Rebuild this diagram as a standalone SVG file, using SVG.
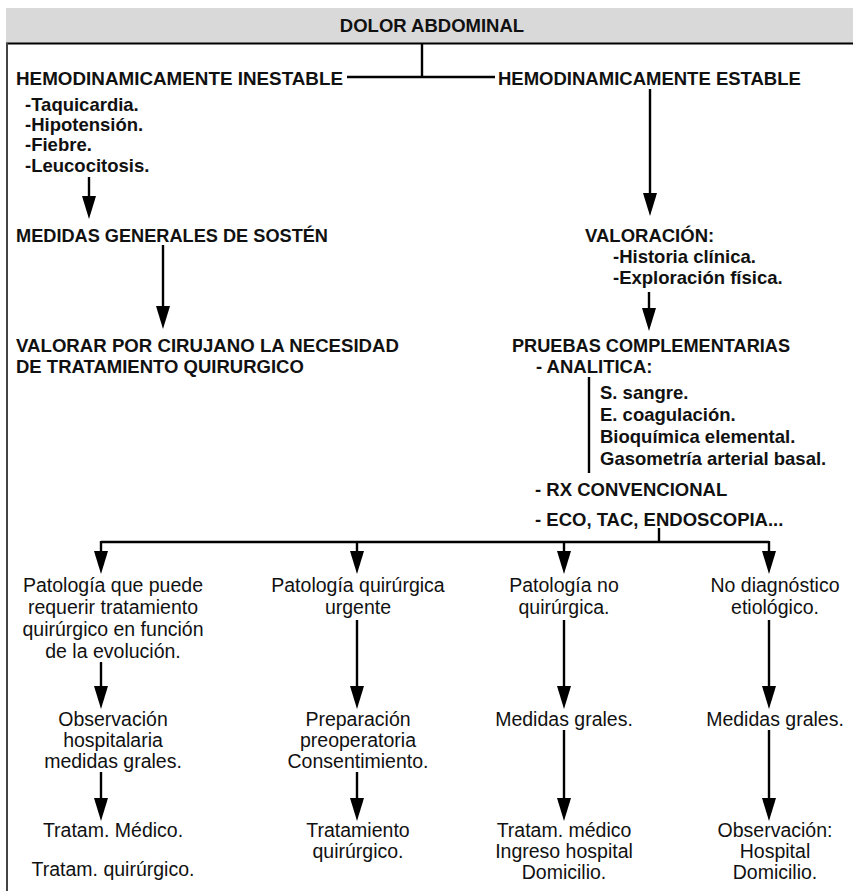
<svg xmlns="http://www.w3.org/2000/svg" width="853" height="891" viewBox="0 0 853 891">
<style>
.b{font-family:"Liberation Sans",Arial,sans-serif;font-weight:bold;font-size:18.5px;fill:#111}
.r{font-family:"Liberation Sans",Arial,sans-serif;font-size:19.5px;fill:#111;text-anchor:middle}
.ln{stroke:#000;stroke-width:2.4;fill:none}
.ar{stroke:#000;stroke-width:2.4;fill:none;marker-end:url(#ah)}
</style>
<defs>
<marker id="ah" markerUnits="userSpaceOnUse" markerWidth="24" markerHeight="16" refX="10" refY="7" orient="auto">
<path d="M0,0 L23,7 L0,14 z" fill="#000"/>
</marker>
</defs>
<rect width="853" height="891" fill="#fff"/>
<g id="header">
<rect x="6" y="8" width="847" height="35" fill="#d9d9d9"/>
<line x1="6" y1="43.5" x2="853" y2="43.5" stroke="#000" stroke-width="2"/>
<line x1="7" y1="43" x2="7" y2="891" stroke="#444" stroke-width="2"/>
<text class="b" x="432" y="32" text-anchor="middle" font-size="19.5">DOLOR ABDOMINAL</text>
</g>
<g id="connectors">
<line class="ln" x1="422" y1="44" x2="422" y2="77"/>
<line class="ln" x1="347" y1="77" x2="495" y2="77"/>
<line class="ar" x1="89" y1="177" x2="89" y2="206"/>
<line class="ar" x1="163" y1="245" x2="163" y2="316"/>
<line class="ar" x1="650" y1="89" x2="650" y2="203"/>
<line class="ar" x1="649" y1="292" x2="649" y2="318"/>
<line class="ln" x1="589" y1="377" x2="589" y2="473"/>
<line class="ln" x1="659" y1="528" x2="659" y2="542"/>
<line class="ln" x1="101" y1="542" x2="769" y2="542"/>
<line class="ar" x1="101" y1="541" x2="101" y2="561"/>
<line class="ar" x1="357" y1="541" x2="357" y2="561"/>
<line class="ar" x1="564" y1="541" x2="564" y2="561"/>
<line class="ar" x1="769" y1="541" x2="769" y2="561"/>
<line class="ar" x1="101" y1="662" x2="101" y2="696"/>
<line class="ar" x1="101" y1="772" x2="101" y2="808"/>
<line class="ar" x1="357" y1="620" x2="357" y2="696"/>
<line class="ar" x1="357" y1="772" x2="357" y2="808"/>
<line class="ar" x1="564" y1="620" x2="564" y2="696"/>
<line class="ar" x1="564" y1="730" x2="564" y2="808"/>
<line class="ar" x1="769" y1="620" x2="769" y2="696"/>
<line class="ar" x1="769" y1="730" x2="769" y2="808"/>
</g>
<g id="inestable">
<text class="b" x="16" y="85" textLength="327" lengthAdjust="spacingAndGlyphs">HEMODINAMICAMENTE INESTABLE</text>
<text class="b" x="25" y="111">-Taquicardia.</text>
<text class="b" x="25" y="131">-Hipotensión.</text>
<text class="b" x="25" y="151">-Fiebre.</text>
<text class="b" x="25" y="172">-Leucocitosis.</text>
</g>
<g id="estable">
<text class="b" x="498" y="85">HEMODINAMICAMENTE ESTABLE</text>
</g>
<g id="medidas-sosten">
<text class="b" x="16" y="242" textLength="312" lengthAdjust="spacingAndGlyphs">MEDIDAS GENERALES DE SOSTÉN</text>
</g>
<g id="valorar-cirujano">
<text class="b" x="16" y="352" textLength="383" lengthAdjust="spacingAndGlyphs">VALORAR POR CIRUJANO LA NECESIDAD</text>
<text class="b" x="16" y="373">DE TRATAMIENTO QUIRURGICO</text>
</g>
<g id="valoracion">
<text class="b" x="585" y="242">VALORACIÓN:</text>
<text class="b" x="613" y="263">-Historia clínica.</text>
<text class="b" x="613" y="284">-Exploración física.</text>
</g>
<g id="pruebas">
<text class="b" x="512" y="352" textLength="278" lengthAdjust="spacingAndGlyphs">PRUEBAS COMPLEMENTARIAS</text>
<text class="b" x="536" y="373">- ANALITICA:</text>
<text class="b" x="600" y="399">S. sangre.</text>
<text class="b" x="600" y="421">E. coagulación.</text>
<text class="b" x="600" y="443">Bioquímica elemental.</text>
<text class="b" x="600" y="465">Gasometría arterial basal.</text>
<text class="b" x="535" y="496">- RX CONVENCIONAL</text>
<text class="b" x="535" y="526">- ECO, TAC, ENDOSCOPIA...</text>
</g>
<g id="col1-a">
<text class="r" x="113" y="592">Patología que puede</text>
<text class="r" x="113" y="614">requerir tratamiento</text>
<text class="r" x="113" y="636">quirúrgico en función</text>
<text class="r" x="113" y="658">de la evolución.</text>
</g>
<g id="col1-b">
<text class="r" x="113" y="726">Observación</text>
<text class="r" x="113" y="747">hospitalaria</text>
<text class="r" x="113" y="768">medidas grales.</text>
</g>
<g id="col1-c">
<text class="r" x="113" y="837">Tratam. Médico.</text>
<text class="r" x="113" y="876">Tratam. quirúrgico.</text>
</g>
<g id="col2-a">
<text class="r" x="358" y="592">Patología quirúrgica</text>
<text class="r" x="358" y="614">urgente</text>
</g>
<g id="col2-b">
<text class="r" x="358" y="726">Preparación</text>
<text class="r" x="358" y="747">preoperatoria</text>
<text class="r" x="358" y="768">Consentimiento.</text>
</g>
<g id="col2-c">
<text class="r" x="358" y="837">Tratamiento</text>
<text class="r" x="358" y="858">quirúrgico.</text>
</g>
<g id="col3-a">
<text class="r" x="564" y="592">Patología no</text>
<text class="r" x="564" y="614">quirúrgica.</text>
</g>
<g id="col3-b">
<text class="r" x="564" y="726">Medidas grales.</text>
</g>
<g id="col3-c">
<text class="r" x="564" y="837">Tratam. médico</text>
<text class="r" x="564" y="858">Ingreso hospital</text>
<text class="r" x="564" y="879">Domicilio.</text>
</g>
<g id="col4-a">
<text class="r" x="775" y="592">No diagnóstico</text>
<text class="r" x="775" y="614">etiológico.</text>
</g>
<g id="col4-b">
<text class="r" x="775" y="726">Medidas grales.</text>
</g>
<g id="col4-c">
<text class="r" x="775" y="837">Observación:</text>
<text class="r" x="775" y="858">Hospital</text>
<text class="r" x="775" y="879">Domicilio.</text>
</g>
</svg>
